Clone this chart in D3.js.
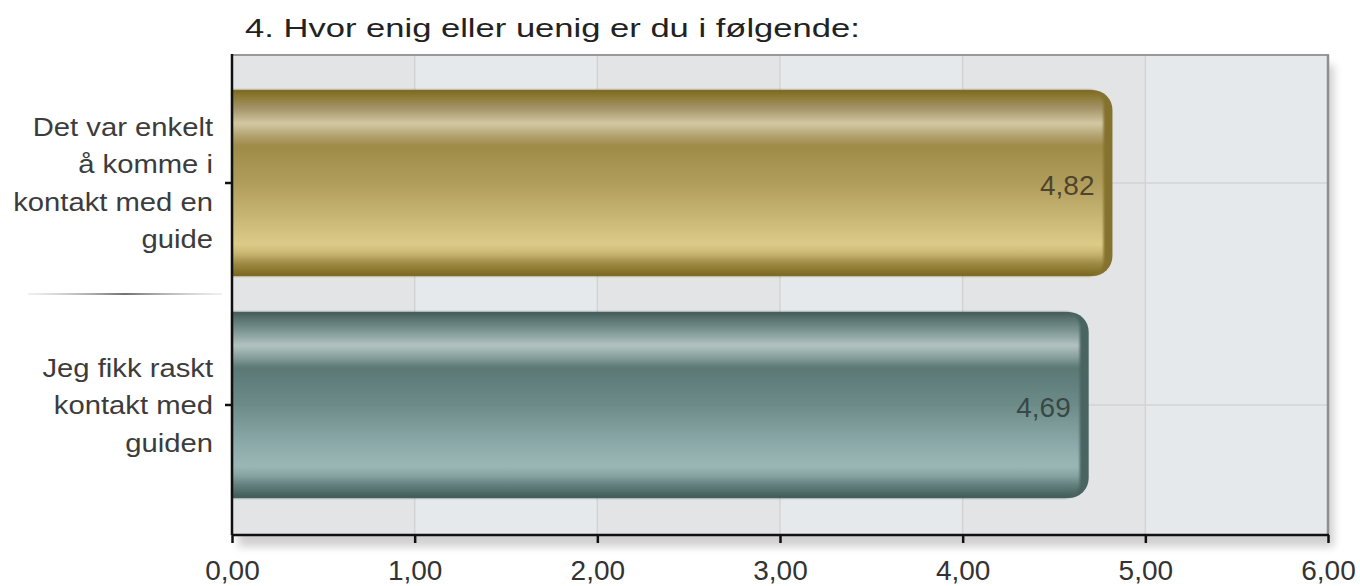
<!DOCTYPE html>
<html>
<head>
<meta charset="utf-8">
<script src="https://cdn.jsdelivr.net/npm/d3@7"></script>
<style>
  html, body { margin: 0; padding: 0; background: #fff; }
  svg { display: block; }
  text { font-family: Arial, "Liberation Sans", Helvetica, sans-serif; }
</style>
</head>
<body>
<svg id="chart" width="1360" height="586"></svg>
<script>
// ---- data ----
const title = "4. Hvor enig eller uenig er du i følgende:";
const categories = [
  "Det var enkelt\nå komme i\nkontakt med en\nguide",
  "Jeg fikk raskt\nkontakt med\nguiden"
];
const values = [4.82, 4.69];
const valueLabels = ["4,82", "4,69"];
const xTickValues = [0, 1, 2, 3, 4, 5, 6];
const xTickLabels = ["0,00", "1,00", "2,00", "3,00", "4,00", "5,00", "6,00"];

// ---- layout ----
const W = 1360, H = 586;
const plot = { left: 232, right: 1328, top: 55, bottom: 535 };
const svg = d3.select("#chart");
const defs = svg.append("defs");

const x = d3.scaleLinear().domain([0, 6]).range([plot.left, plot.right]);
const y = d3.scaleBand().domain(categories).range([72, 516])
  .paddingInner(0.162).paddingOuter(0.081);

// shadow filter
const sh = defs.append("filter").attr("id", "shadow")
  .attr("x", "-5%").attr("y", "-5%").attr("width", "115%").attr("height", "120%");
sh.append("feGaussianBlur").attr("stdDeviation", 4);

const soft = defs.append("filter").attr("id", "soft")
  .attr("x", "-2%").attr("y", "-5%").attr("width", "104%").attr("height", "110%");
soft.append("feGaussianBlur").attr("stdDeviation", 1.2);

// bar gradients
const palettes = [
  { id: "gold", bevel: "#85722e", text: "#3a3424", stops: [
    [0, "#7a6723"], [0.03, "#8a7732"], [0.1, "#a5946a"], [0.18, "#d3c9a3"], [0.24, "#b4a574"],
    [0.3, "#9f8b48"], [0.5, "#b09d5c"], [0.72, "#cdbb7a"], [0.83, "#dccb88"], [0.88, "#c8b572"],
    [0.93, "#a08c46"], [0.97, "#8a772f"], [1, "#766322"] ] },
  { id: "teal", bevel: "#4a6462", text: "#2f3a39", stops: [
    [0, "#425a58"], [0.03, "#55706d"], [0.1, "#7c9593"], [0.18, "#b3c3c1"], [0.24, "#8aa19f"],
    [0.3, "#5a7875"], [0.5, "#6d8c89"], [0.72, "#8dabaa"], [0.83, "#9bb7b5"], [0.88, "#86a3a1"],
    [0.93, "#62807d"], [0.97, "#4f6a67"], [1, "#405856"] ] }
];
palettes.forEach(p => {
  const g = defs.append("linearGradient").attr("id", "grad-" + p.id)
    .attr("x1", 0).attr("y1", 0).attr("x2", 0).attr("y2", 1);
  p.stops.forEach(s => g.append("stop").attr("offset", s[0]).attr("stop-color", s[1]));
});

// separator gradient
const sepG = defs.append("linearGradient").attr("id", "sepgrad")
  .attr("x1", 0).attr("x2", 1).attr("y1", 0).attr("y2", 0);
sepG.append("stop").attr("offset", 0).attr("stop-color", "#bbb").attr("stop-opacity", 0.3);
sepG.append("stop").attr("offset", 0.5).attr("stop-color", "#444").attr("stop-opacity", 1);
sepG.append("stop").attr("offset", 1).attr("stop-color", "#bbb").attr("stop-opacity", 0.3);

// ---- title ----
svg.append("text")
  .attr("transform", "translate(245,37) scale(1.33,1)")
  .attr("font-size", 26).attr("fill", "#222")
  .text(title);

// ---- plot background ----
svg.append("rect")
  .attr("x", plot.left + 6).attr("y", plot.top + 10)
  .attr("width", plot.right - plot.left).attr("height", plot.bottom - plot.top + 2)
  .attr("fill", "#000").attr("opacity", 0.18).attr("filter", "url(#shadow)");

const bands = d3.range(6);
svg.append("g").selectAll("rect").data(bands).join("rect")
  .attr("x", d => x(d)).attr("y", plot.top)
  .attr("width", d => x(d + 1) - x(d)).attr("height", plot.bottom - plot.top)
  .attr("fill", d => d % 2 === 0 ? "#e3e4e6" : "#e6e9ec");

// gridlines
svg.append("g").selectAll("line").data(xTickValues.slice(1, -1)).join("line")
  .attr("x1", d => x(d)).attr("x2", d => x(d))
  .attr("y1", plot.top).attr("y2", plot.bottom)
  .attr("stroke", "#d2d3d5").attr("stroke-width", 1.5);
svg.append("g").selectAll("line").data(categories).join("line")
  .attr("x1", plot.left).attr("x2", plot.right)
  .attr("y1", d => y(d) + y.bandwidth() / 2).attr("y2", d => y(d) + y.bandwidth() / 2)
  .attr("stroke", "#d2d3d5").attr("stroke-width", 1.5);

// frame top and right
svg.append("line").attr("x1", plot.left).attr("x2", plot.right + 1)
  .attr("y1", plot.top).attr("y2", plot.top).attr("stroke", "#999").attr("stroke-width", 2);
svg.append("line").attr("x1", plot.right).attr("x2", plot.right)
  .attr("y1", plot.top).attr("y2", plot.bottom).attr("stroke", "#8e8e8e").attr("stroke-width", 2.5);

// ---- bars ----
function barPath(x0, x1, y0, h, r) {
  r = Math.min(r, h / 2, x1 - x0);
  return `M${x0},${y0} H${x1 - r} A${r},${r} 0 0 1 ${x1},${y0 + r} V${y0 + h - r} A${r},${r} 0 0 1 ${x1 - r},${y0 + h} H${x0} Z`;
}
const barG = svg.append("g");
categories.forEach((c, i) => {
  const p = palettes[i];
  const x0 = x(0), x1 = x(values[i]), y0 = y(c), h = y.bandwidth();
  barG.append("path").attr("d", barPath(x0, x1, y0, h, 20)).attr("fill", p.bevel);
  barG.append("path").attr("d", barPath(x0, x1 - 9, y0, h, 15))
    .attr("fill", `url(#grad-${p.id})`).attr("filter", "url(#soft)");
  barG.append("text")
    .attr("x", x1 - 18).attr("y", y0 + h / 2 + 12)
    .attr("text-anchor", "end").attr("font-size", 28).attr("fill", p.text)
    .attr("fill-opacity", 0.85)
    .text(valueLabels[i]);
});

// ---- axes ----
const xAxis = d3.axisBottom(x).tickValues(xTickValues)
  .tickFormat((d, i) => xTickLabels[i]).tickSize(8).tickPadding(17);
const xg = svg.append("g").attr("transform", `translate(0,${plot.bottom})`).call(xAxis);
xg.select(".domain").attr("stroke", "#111").attr("stroke-width", 2.5)
  .attr("d", `M${plot.left},0H${plot.right + 1}`);
xg.selectAll(".tick line").attr("stroke", "#111").attr("stroke-width", 2.5);
xg.selectAll(".tick text").attr("font-size", 28).attr("fill", "#333")
  .attr("font-family", "Arial, 'Liberation Sans', Helvetica, sans-serif");

const yAxis = d3.axisLeft(y).tickSize(7).tickFormat("");
const yg = svg.append("g").attr("transform", `translate(${plot.left},0)`).call(yAxis);
yg.select(".domain").attr("stroke", "#111").attr("stroke-width", 2.5)
  .attr("d", `M0,${plot.top - 1}V${plot.bottom}`);
yg.selectAll(".tick line").attr("stroke", "#111").attr("stroke-width", 2.5);

// y labels
const lineH = 37.5;
categories.forEach(c => {
  const lines = c.split("\n");
  const cy = y(c) + y.bandwidth() / 2;
  lines.forEach((ln, j) => {
    const by = cy + (j - (lines.length - 1) / 2) * lineH + 9;
    svg.append("text")
      .attr("transform", `translate(213,${by}) scale(1.17,1)`)
      .attr("text-anchor", "end").attr("font-size", 25).attr("fill", "#3c3c3c")
      .text(ln);
  });
});

// separator between categories
const sepY = (y(categories[0]) + y.bandwidth() + y(categories[1])) / 2;
svg.append("rect").attr("x", 28).attr("y", sepY - 0.75).attr("width", 194).attr("height", 1.5)
  .attr("fill", "url(#sepgrad)");
</script>
</body>
</html>
